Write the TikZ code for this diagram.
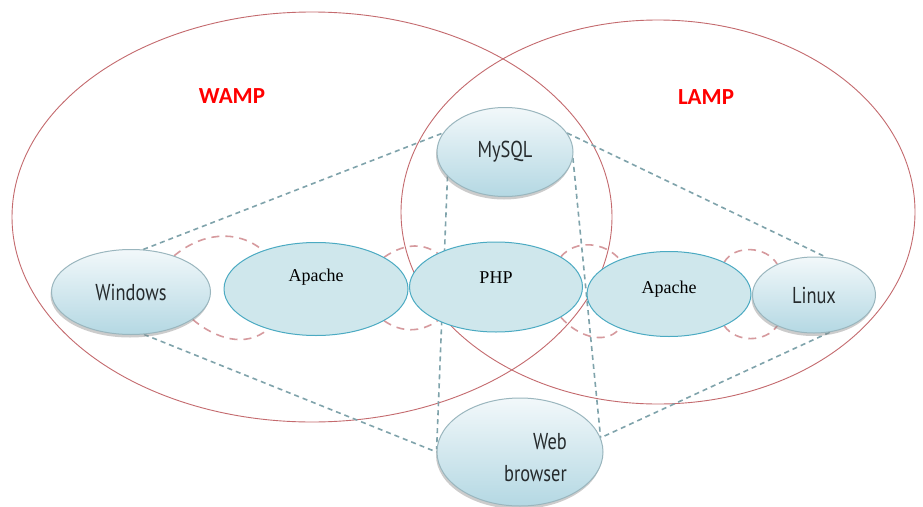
\documentclass[tikz,border=0pt]{standalone}
\usepackage{fontspec}
\usepackage{xcolor}
\usetikzlibrary{shapes,shadows,backgrounds}
\setmainfont{Liberation Serif}
\newfontfamily\boxfont[FakeStretch=0.8]{PT Sans}
\newfontfamily\titlefont{Carlito}
\definecolor{ringred}{HTML}{C46A6E}
\definecolor{linkred}{HTML}{D69A9E}
\definecolor{wireblue}{HTML}{7FA3AB}
\definecolor{newfill}{HTML}{CFE7EC}
\definecolor{newedge}{HTML}{4BAAC2}
\definecolor{oldtop}{HTML}{F2F8FA}
\definecolor{oldbottom}{HTML}{B4D8E3}
\definecolor{oldedge}{HTML}{9AB6BE}
\definecolor{oldtext}{HTML}{262B2D}

\begin{document}
\begin{tikzpicture}[x=1pt, y=-1pt,
  ring/.style={draw=ringred, line width=0.9pt},
  wire/.style={draw=wireblue, line width=1.6pt, dash pattern=on 5pt off 4pt},
  link/.style={draw=linkred, line width=1.6pt, dash pattern=on 8pt off 6pt},
  oldbox/.style={ellipse, draw=oldedge, line width=1pt, top color=oldtop, bottom color=oldbottom,
    drop shadow={shadow xshift=-1pt, shadow yshift=-3pt, opacity=0.4}, inner sep=0pt,
    text=oldtext, font=\boxfont\fontsize{23}{28}\selectfont},
  newbox/.style={ellipse, draw=newedge, line width=1pt, fill=newfill, inner sep=0pt,
    text height=13pt, font=\rmfamily\fontsize{18}{22}\selectfont},
  title/.style={text=red, font=\titlefont\bfseries\fontsize{23}{28}\selectfont}]
  \path[use as bounding box] (0,0) rectangle (923,506);
  \node[title] (wamp) at (232,96) {WAMP};
  \node[title] (lamp) at (706,97) {LAMP};
  %
  % Components:
  \node[oldbox, minimum width=159pt, minimum height=85pt] (win) at (131,292) {Windows};
  \node[oldbox, minimum width=136pt, minimum height=89pt] (sql) at (505,152) {MySQL};
  \node[oldbox, minimum width=123pt, minimum height=76pt] (lin) at (814,295) {Linux};
  \node[oldbox, minimum width=166pt, minimum height=108pt] (web) at (520,452) {};
  \node[text=oldtext, font=\boxfont\fontsize{23}{28}\selectfont, align=right, anchor=east,
    inner sep=0pt] (webtext) at (567,458) {Web\\[4pt]browser};
  %
  % Stack members:
  \node[newbox, minimum width=184pt, minimum height=93pt, text depth=29pt] (apl) at (316,289) {Apache};
  \node[newbox, minimum width=173pt, minimum height=90pt, text depth=21pt] (php) at (496,287) {PHP};
  \node[newbox, minimum width=164pt, minimum height=85pt, text depth=15pt] (apr) at (669,294) {Apache};
  %
  \begin{scope}[on background layer]
    \fill[white] (0,0) rectangle (923,506);
    % Stack rings
    \draw[ring] (312,217) ellipse [x radius=300pt, y radius=205pt];
    \draw[ring] (658,212) ellipse [x radius=257pt, y radius=192pt];
    % Wires to the database and browser:
    \draw[wire] (win.74) -- (sql.163);
    \draw[wire] (win.-73) -- (web.180);
    \draw[wire] (sql.203) -- (web.178);
    \draw[wire] (sql.-5) -- (web.10);
    \draw[wire] (sql.17) -- (lin.72);
    \draw[wire] (lin.-67) -- (web.10);
    % Chain links:
    \draw[link] (win.40) to[out=40, in=140] (apl.144);
    \draw[link] (win.-24) to[out=-40, in=-140] (apl.-140);
    \draw[link] (apl.25) to[out=35, in=145] (php.150);
    \draw[link] (apl.-25) to[out=-35, in=-145] (php.-150);
    \draw[link] (php.25) to[out=50, in=130] (apr.145);
    \draw[link] (php.-25) to[out=-50, in=-130] (apr.-145);
    \draw[link] (apr.30) to[out=60, in=120] (lin.140);
    \draw[link] (apr.-30) to[out=-55, in=-125] (lin.-140);
  \end{scope}
\end{tikzpicture}
\end{document}
